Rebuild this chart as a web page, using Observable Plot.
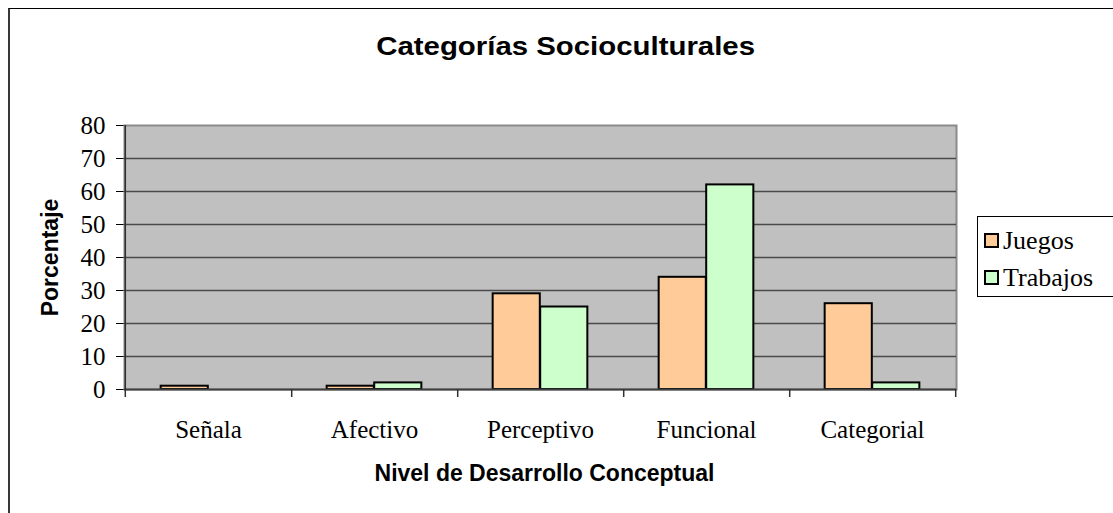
<!DOCTYPE html>
<html>
<head>
<meta charset="utf-8">
<script src="https://cdn.jsdelivr.net/npm/d3@7"></script>
<script src="https://cdn.jsdelivr.net/npm/@observablehq/plot@0.6"></script>
<style>
  html, body { margin: 0; padding: 0; background: #fff; }
  #chart { position: relative; width: 1113px; height: 513px; overflow: hidden; background: #fff; }
  #frame { position: absolute; left: 8px; top: 8px; width: 1200px; height: 600px;
           border-top: 1px solid #000; border-left: 2px solid #383838; box-sizing: border-box; }
  #title { position: absolute; left: 8px; width: 1116px; top: 31px; line-height: 34px; text-align: center;
           font: bold 26px "Liberation Sans", Arial, sans-serif; color: #000; }
  #title span { display: inline-block; transform: scaleX(1.13); }
  #plot { position: absolute; left: 0; top: 90px; }
  #legend { position: absolute; left: 977px; top: 216px; width: 137px; height: 81px;
            border: 1px solid #000; box-sizing: border-box; background: #fff;
            font: 26px "Liberation Serif", "Times New Roman", serif; color: #000; padding-top: 5px; }
  .item { display: flex; align-items: center; height: 37px; padding-left: 6px; }
  .sw { width: 15px; height: 15px; border: 2px solid #000; box-sizing: border-box; margin-right: 4px; }
</style>
</head>
<body>
<div id="chart">
  <div id="frame"></div>
  <div id="title"><span></span></div>
  <div id="plot"></div>
  <div id="legend"></div>
</div>
<script>
const titleText = "Categorías Socioculturales";
const xTitle = "Nivel de Desarrollo Conceptual";
const yTitle = "Porcentaje";
const categories = ["Señala", "Afectivo", "Perceptivo", "Funcional", "Categorial"];
const seriesNames = ["Juegos", "Trabajos"];
const juegos = [1, 1, 29, 34, 26];
const trabajos = [0, 2, 25, 62, 2];
const seriesColors = ["#FFCC99", "#CCFFCC"];
const yTicks = [0, 10, 20, 30, 40, 50, 60, 70, 80];

// layout
const W = 1113, H = 423;
const mL = 124, mR = 157, mT = 35, mB = 124;
const bw = (W - mL - mR) / categories.length;   // band width
const barW = bw / 3.5;                           // Excel gap width 150%
const side = barW * 0.75;

const rows = categories.flatMap((c, i) => [
  {cat: c, series: seriesNames[0], value: juegos[i]},
  {cat: c, series: seriesNames[1], value: trabajos[i]}
]);

document.querySelector("#title span").textContent = titleText;

const yMin = yTicks[0], yMax = yTicks[yTicks.length - 1];

const plot = Plot.plot({
  width: W, height: H,
  marginLeft: mL, marginRight: mR, marginTop: mT, marginBottom: mB,
  style: {fontFamily: "'Liberation Serif', 'Times New Roman', serif", fontSize: "25px", color: "#000", background: "transparent", overflow: "visible"},
  x: {domain: categories, padding: 0, tickSize: 0, tickPadding: 31, label: null},
  y: {domain: [yMin, yMax], ticks: yTicks, tickSize: 8, tickPadding: 11, label: null},
  marks: [
    Plot.frame({fill: "#C0C0C0", stroke: "#8a8a8a", strokeWidth: 2}),
    Plot.ruleY(yTicks.filter(t => t > yMin && t < yMax), {stroke: "#4a4a4a", strokeWidth: 1.4}),
    Plot.barY(rows.filter(d => d.series === seriesNames[0] && d.value > 0), {
      x: "cat", y: "value", fill: seriesColors[0], stroke: "#000", strokeWidth: 2,
      insetLeft: side, insetRight: bw / 2
    }),
    Plot.barY(rows.filter(d => d.series === seriesNames[1] && d.value > 0), {
      x: "cat", y: "value", fill: seriesColors[1], stroke: "#000", strokeWidth: 2,
      insetLeft: bw / 2, insetRight: side
    }),
    Plot.ruleY([yMin], {stroke: "#404040", strokeWidth: 2}),
    // y axis line (left edge of first band)
    Plot.ruleX([categories[0]], {x: d => d, dx: -bw / 2, y1: () => yMax, y2: () => yMin, insetBottom: -8, stroke: "#303030", strokeWidth: 1.5}),
    // category boundary ticks below axis
    Plot.ruleX(categories, {x: d => d, dx: bw / 2, y1: () => yMin, y2: () => yMin, insetBottom: -8, stroke: "#303030", strokeWidth: 1.5}),
    Plot.text([yTitle], {text: d => d, frameAnchor: "left", dx: -74, rotate: -90, textAnchor: "middle", lineAnchor: "middle",
      fontFamily: "'Liberation Sans', Arial, sans-serif", fontWeight: "bold", fontSize: 23, fill: "#000"}),
    Plot.text([xTitle], {text: d => d, frameAnchor: "bottom", dx: 4, dy: 84, textAnchor: "middle", lineAnchor: "middle",
      fontFamily: "'Liberation Sans', Arial, sans-serif", fontWeight: "bold", fontSize: 23, letterSpacing: "0.5px", fill: "#000"})
  ]
});
document.getElementById("plot").appendChild(plot);

const legend = document.getElementById("legend");
seriesNames.forEach((name, i) => {
  const item = document.createElement("div");
  item.className = "item";
  const sw = document.createElement("div");
  sw.className = "sw";
  sw.style.background = seriesColors[i];
  const label = document.createElement("span");
  label.textContent = name;
  item.appendChild(sw);
  item.appendChild(label);
  legend.appendChild(item);
});
</script>
</body>
</html>
